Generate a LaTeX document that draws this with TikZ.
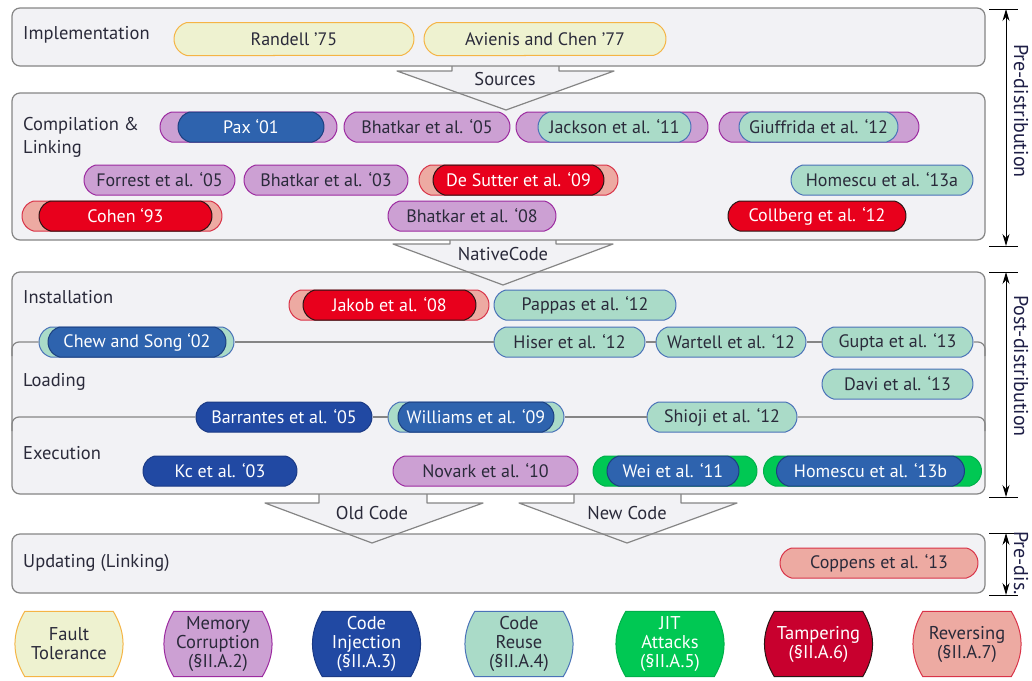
\documentclass[tikz,border=0pt]{standalone}
\usepackage{fontspec}
\setmainfont{PT Sans}
\usetikzlibrary{shapes.misc,arrows.meta,backgrounds}
\definecolor{boxfill}{HTML}{F2F2F5}
\definecolor{boxline}{HTML}{858585}
\definecolor{ink}{HTML}{2A2A3A}
\definecolor{sidetext}{HTML}{1E1E46}
\definecolor{ftfill}{HTML}{EEF2D0}
\definecolor{ftline}{HTML}{F5B445}
\definecolor{mcfill}{HTML}{CCA0D3}
\definecolor{mcline}{HTML}{9C2AA0}
\definecolor{cifill}{HTML}{2149A3}
\definecolor{ciline}{HTML}{1B3A85}
\definecolor{cbfill}{HTML}{2E63AE}
\definecolor{cbline}{HTML}{1C3F80}
\definecolor{crfill}{HTML}{AADBC8}
\definecolor{crline}{HTML}{4A72B8}
\definecolor{jitfill}{HTML}{00C853}
\definecolor{jitline}{HTML}{00B04A}
\definecolor{tpfill}{HTML}{E8001C}
\definecolor{tpline}{HTML}{2A1515}
\definecolor{tpdark}{HTML}{C8002E}
\definecolor{rvfill}{HTML}{EDAAA2}
\definecolor{rvline}{HTML}{D93348}
\begin{document}
\begin{tikzpicture}[x=1pt,y=-1pt,line join=round]
    \tikzstyle{badge}=[rounded rectangle,rounded rectangle arc length=150,minimum height=30,inner xsep=1pt,inner ysep=0pt,line width=1pt,font=\fontsize{18}{21}\selectfont,text=ink]
    \tikzstyle{ftb}=[badge,fill=ftfill,draw=ftline]
    \tikzstyle{mcb}=[badge,fill=mcfill,draw=mcline]
    \tikzstyle{cib}=[badge,fill=cifill,draw=ciline,text=white]
    \tikzstyle{cbb}=[badge,fill=cbfill,draw=cbline,text=white]
    \tikzstyle{crb}=[badge,fill=crfill,draw=crline]
    \tikzstyle{jitb}=[badge,fill=jitfill,draw=jitline]
    \tikzstyle{tpb}=[badge,fill=tpfill,draw=tpline,text=white]
    \tikzstyle{rvb}=[badge,fill=rvfill,draw=rvline]
    \tikzstyle{lbl}=[font=\fontsize{18.5}{23}\selectfont,text=ink,inner sep=0pt,align=left]
    \tikzstyle{legendbox}=[rectangle,minimum width=88,minimum height=65,inner sep=0pt,align=center,font=\fontsize{18.5}{19}\selectfont,text=ink]
    \tikzstyle{legendrim}=[line width=1pt]
    \tikzstyle{stageline}=[draw=boxline,line width=1.2pt,rounded corners=8pt]
    \tikzstyle{flow}=[draw=boxline,fill=boxfill,line width=1.2pt]
    \tikzstyle{divider}=[draw=boxline,line width=1.2pt]
    \tikzstyle{spanarrow}=[{Stealth[length=12pt,width=7pt]}-{Stealth[length=12pt,width=7pt]},line width=1pt,draw=black]
    \tikzstyle{sidelbl}=[rotate=-90,font=\fontsize{20}{24}\selectfont,text=sidetext,inner sep=0pt]
    \useasboundingbox (0,0) rectangle (1032,680);

    \foreach \t/\b in {8/66, 93/240, 272/494, 534/593}
        \fill[boxfill,rounded corners=8pt] (12,\t) rectangle (985,\b);
    \draw[flow] (452,66) -- (452,71) -- (397,71) -- (506,110) -- (614,71) -- (559,71) -- (559,66);
    \draw[flow] (450,240) -- (450,244) -- (393,244) -- (503,285) -- (613,244) -- (556,244) -- (556,240);
    \draw[flow] (319,494) -- (319,503) -- (265,503) -- (372,543) -- (483,503) -- (427,503) -- (427,494);
    \draw[flow] (574,494) -- (574,503) -- (519,503) -- (627,543) -- (737,503) -- (681,503) -- (681,494);
    \foreach \t/\b in {8/66, 93/240, 272/494, 534/593}
        \draw[stageline] (12,\t) rectangle (985,\b);

    \node at (505, 79)  (src) [lbl] {Sources};
    \node at (503, 254) (nat) [lbl] {NativeCode};
    \node at (372, 513) (old) [lbl] {Old Code};
    \node at (627, 513) (new) [lbl] {New Code};

    \node at (23, 35)  (impl) [lbl,anchor=west] {Implementation};
    \node at (23, 137) (comp) [lbl,anchor=west] {Compilation \&\\Linking};
    \node at (23, 297) (inst) [lbl,anchor=west] {Installation};
    \node at (23, 382) (load) [lbl,anchor=west] {Loading};
    \node at (23, 453) (exec) [lbl,anchor=west] {Execution};
    \node at (23, 563) (upd)  [lbl,anchor=west] {Updating (Linking)};

    \node at (294, 39) (randell) [ftb,minimum width=242,minimum height=33] {Randell ’75};
    \node at (545, 39) (avienis) [ftb,minimum width=244,minimum height=33] {Avienis and Chen ’77};

    \node at (248.5, 127) (paxo)  [mcb,minimum width=179] {};
    \node at (251, 127)   (paxi)  [cbb,minimum width=148] {Pax ‘01};
    \node at (427, 127)   (bhat05) [mcb,minimum width=168] {Bhatkar et al. ‘05};
    \node at (612, 127)   (jackso) [mcb,minimum width=194] {};
    \node at (614.5, 127) (jacksi) [crb,minimum width=155] {Jackson et al. ‘11};
    \node at (819, 127)   (giufo)  [mcb,minimum width=202] {};
    \node at (818.5, 127) (giufi)  [crb,minimum width=161] {Giuffrida et al. ‘12};

    \node at (159.5, 180) (forrest) [mcb,minimum width=153] {Forrest et al. ‘05};
    \node at (326, 180)   (bhat03)  [mcb,minimum width=166] {Bhatkar et al. ‘03};
    \node at (518.5, 180) (desuto)  [rvb,minimum width=201] {};
    \node at (518.5, 180) (desuti)  [tpb,minimum width=173] {De Sutter et al. ‘09};
    \node at (882, 180)   (homa)    [crb,minimum width=184] {Homescu et al. ‘13a};

    \node at (122, 216)   (coheno) [rvb,minimum width=202] {};
    \node at (125.5, 216) (coheni) [tpb,minimum width=175] {Cohen ‘93};
    \node at (472, 216)   (bhat08) [mcb,minimum width=170] {Bhatkar et al. ‘08};
    \node at (817, 216)   (collberg) [tpb,minimum width=180] {Collberg et al. ‘12};

    \node at (389, 305)   (jakobo) [rvb,minimum width=202] {};
    \node at (389.5, 305) (jakobi) [tpb,minimum width=175] {Jakob et al. ‘08};
    \node at (585, 305)   (pappas) [crb,minimum width=184] {Pappas et al. ‘12};

    \node at (136.5, 342) (chewo)   [crb,minimum width=197] {};
    \node at (137, 342)   (chewi)   [cbb,minimum width=180] {Chew and Song ‘02};
    \node at (569.5, 342) (hiser)   [crb,minimum width=153] {Hiser et al. ‘12};
    \node at (731, 342)   (wartell) [crb,minimum width=152] {Wartell et al. ‘12};
    \node at (897.5, 342) (gupta)   [crb,minimum width=153] {Gupta et al. ‘13};
    \node at (897.5, 384) (davi)    [crb,minimum width=153] {Davi et al. ‘13};

    \node at (284, 417) (barrantes) [cib,minimum width=178] {Barrantes et al. ‘05};
    \node at (476, 417) (willo)     [crb,minimum width=178] {};
    \node at (476, 417) (willi)     [cbb,minimum width=158] {Williams et al. ‘09};
    \node at (722, 417) (shioji)    [crb,minimum width=152] {Shioji et al. ‘12};

    \node at (220, 471)   (kc)     [cib,minimum width=156] {Kc et al. ‘03};
    \node at (485.5, 471) (novark) [mcb,minimum width=187] {Novark et al. ‘10};
    \node at (675, 471)   (weio)   [jitb,minimum width=166] {};
    \node at (673, 471)   (weii)   [cbb,minimum width=134] {Wei et al. ‘11};
    \node at (872.5, 471) (homo)   [jitb,minimum width=220] {};
    \node at (870.5, 471) (homi)   [cbb,minimum width=190] {Homescu et al. ‘13b};

    \node at (879, 563) (coppens) [rvb,minimum width=200] {Coppens et al. ‘13};

    \coordinate (dl1) at (12, 356);
    \coordinate (dr1) at (985, 356);
    \coordinate (dl2) at (12, 431);
    \coordinate (dr2) at (985, 431);
    \draw[divider,rounded corners=7pt] (dl1) |- (chewo.west);
    \draw[divider] (chewo.east) -- (hiser.west);
    \draw[divider] (hiser.east) -- (wartell.west);
    \draw[divider] (wartell.east) -- (gupta.west);
    \draw[divider,rounded corners=7pt] (gupta.east) -| (dr1);
    \draw[divider,rounded corners=7pt] (dl2) |- (barrantes.west);
    \draw[divider] (barrantes.east) -- (willo.west);
    \draw[divider] (willo.east) -- (shioji.west);
    \draw[divider,rounded corners=7pt] (shioji.east) -| (dr2);

    \coordinate (pre1) at (1006, 9);
    \coordinate (pre2) at (1006, 246);
    \coordinate (post1) at (1006, 272);
    \coordinate (post2) at (1006, 497);
    \coordinate (upd1) at (1006, 533);
    \coordinate (upd2) at (1006, 595);
    \foreach \y in {9, 246, 272, 497, 533, 595}
        \draw[line width=1pt] (989,\y) -- (1018,\y);
    \draw[spanarrow] (pre1) -- (pre2);
    \draw[spanarrow] (post1) -- (post2);
    \draw[spanarrow] (upd1) -- (upd2);
    \node at (1021, 111) (predist)  [sidelbl] {Pre-distribution};
    \node at (1021, 366) (postdist) [sidelbl] {Post-distribution};
    \node at (1021, 563) (predis)   [sidelbl] {Pre-dis.};

    \node at (69, 644)    (lgft) [legendbox] {Fault\\Tolerance};
    \node at (218, 644)   (lgmc) [legendbox] {Memory\\Corruption\\(§II.A.2)};
    \node at (366.5, 644) (lgci) [legendbox,text=white] {Code\\Injection\\(§II.A.3)};
    \node at (519, 644)   (lgcr) [legendbox] {Code\\Reuse\\(§II.A.4)};
    \node at (670, 644)   (lgjit) [legendbox,text=white] {JIT\\Attacks\\(§II.A.5)};
    \node at (818.5, 644) (lgtp) [legendbox,text=white] {Tampering\\(§II.A.6)};
    \node at (967, 644)   (lgrv) [legendbox] {Reversing\\(§II.A.7)};
    \begin{scope}[on background layer]
        \foreach \n/\f/\d in {lgft/ftfill/ftline, lgmc/mcfill/mcline, lgci/cifill/ciline, lgcr/crfill/crline, lgjit/jitfill/jitline, lgtp/tpdark/tpline, lgrv/rvfill/rvline}
            \draw[legendrim,fill=\f,draw=\d] (\n.north west) -- (\n.north east) to[bend left=31] (\n.south east) -- (\n.south west) to[bend left=31] (\n.north west) -- cycle;
    \end{scope}
\end{tikzpicture}
\end{document}
